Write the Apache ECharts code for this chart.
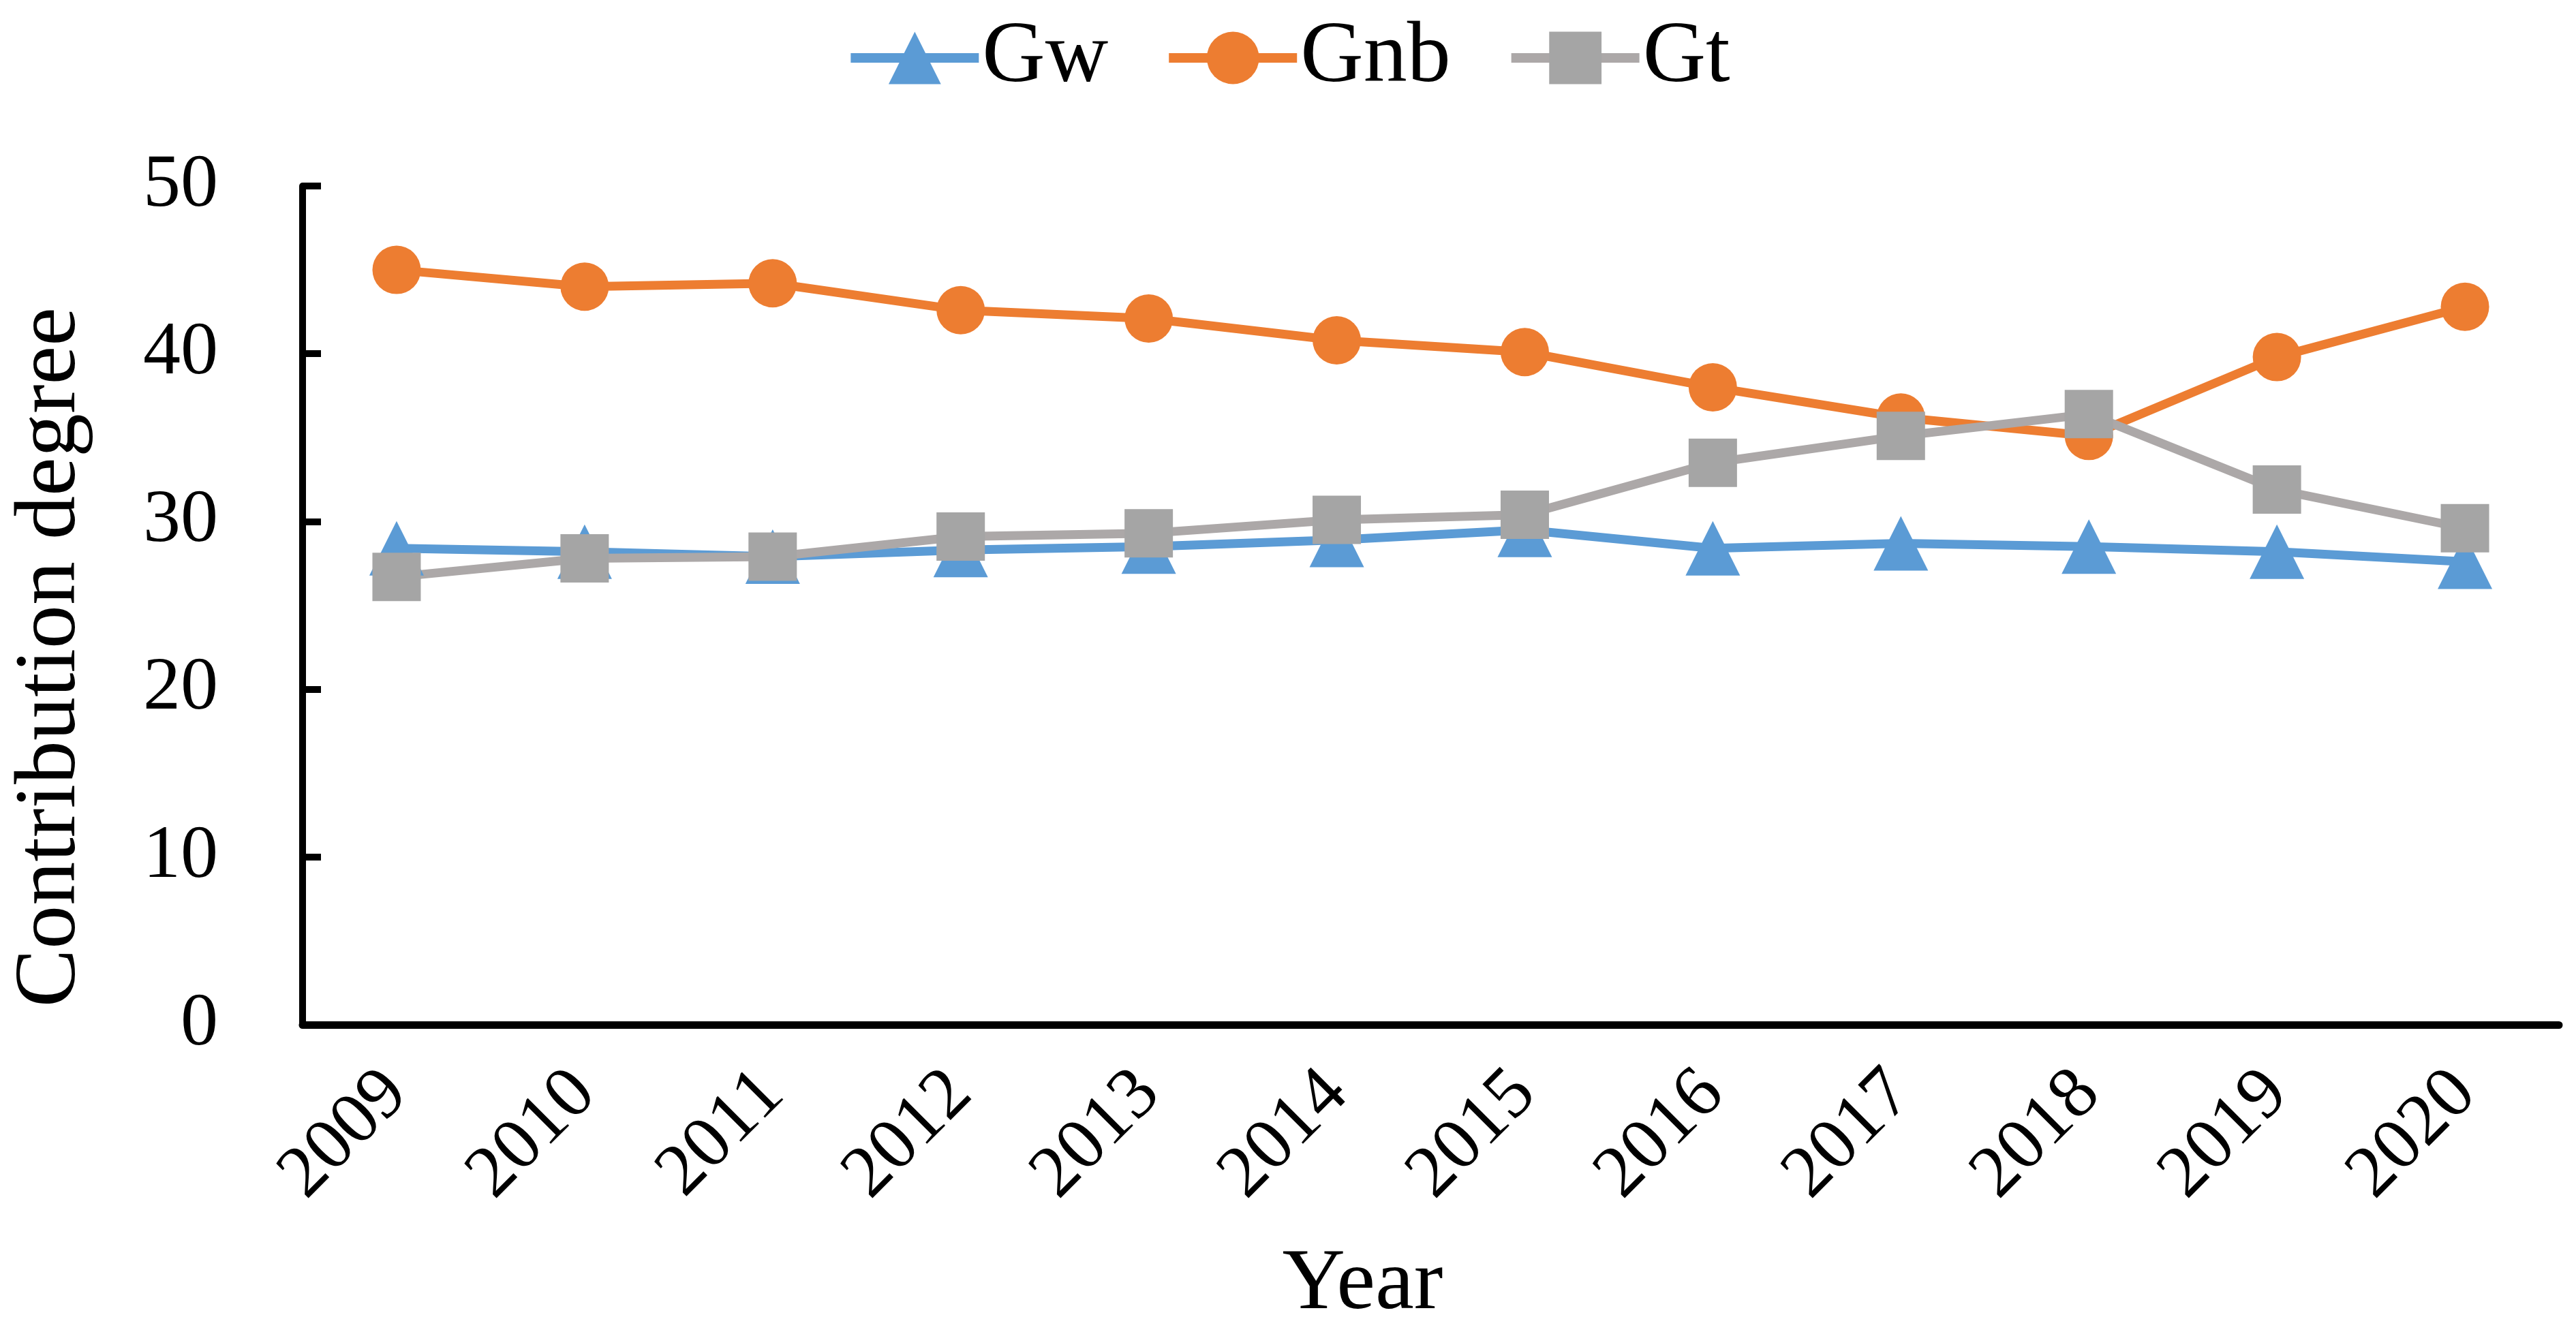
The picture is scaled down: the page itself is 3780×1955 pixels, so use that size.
<!DOCTYPE html>
<html>
<head>
<meta charset="utf-8">
<script src="https://cdn.jsdelivr.net/npm/echarts@6/dist/echarts.min.js"></script>
<style>
  html, body { margin: 0; padding: 0; background: #fff; }
  #container { width: 3780px; height: 1955px; }
</style>
</head>
<body>
<div id="container"></div>
<script>
// 数据
var years = ['2009', '2010', '2011', '2012', '2013', '2014', '2015', '2016', '2017', '2018', '2019', '2020'];
var gw = [28.4, 28.2, 27.9, 28.3, 28.5, 28.9, 29.5, 28.4, 28.7, 28.5, 28.2, 27.6];
var gnb = [45.0, 44.0, 44.2, 42.6, 42.1, 40.8, 40.1, 38.0, 36.2, 35.1, 39.8, 42.8];
var gt = [26.7, 27.8, 27.9, 29.1, 29.3, 30.1, 30.4, 33.5, 35.1, 36.4, 31.9, 29.6];

var font = "'Liberation Serif', 'Times New Roman', serif";

var dom = document.getElementById('container');
var myChart = echarts.init(dom);

var option = {
    animation: false,
    backgroundColor: '#ffffff',
    textStyle: { fontFamily: font, color: '#000' },
    legend: {
        top: 16,
        left: 'center',
        itemWidth: 188,
        itemHeight: 96,
        itemGap: 82,
        lineStyle: { width: 14 },
        textStyle: { fontFamily: font, fontSize: 128, color: '#000' },
        data: ['Gw', 'Gnb', 'Gt']
    },
    grid: {
        left: 444,
        right: 25,
        top: 273,
        bottom: 450,
        containLabel: false
    },
    xAxis: {
        type: 'category',
        data: years,
        boundaryGap: true,
        name: 'Year',
        nameLocation: 'middle',
        nameGap: 318,
        nameTextStyle: { fontFamily: font, fontSize: 128, color: '#000', padding: [0, 200, 0, 0] },
        axisLine: { lineStyle: { color: '#000', width: 11 } },
        axisTick: { inside: true, length: 32, interval: 0, lineStyle: { color: '#000', width: 10 } },
        axisLabel: { rotate: 45, margin: 85, interval: 0, fontFamily: font, fontSize: 108, color: '#000' },
        splitLine: { show: false }
    },
    yAxis: {
        type: 'value',
        min: 0,
        max: 50,
        interval: 10,
        name: 'Contribution degree',
        nameLocation: 'middle',
        nameGap: 305,
        nameTextStyle: { fontFamily: font, fontSize: 128, color: '#000', padding: [0, 152, 0, 0] },
        axisLine: { show: true, lineStyle: { color: '#000', width: 10 } },
        axisTick: { show: true, inside: true, length: 27, lineStyle: { color: '#000', width: 10 } },
        axisLabel: { margin: 124, fontFamily: font, fontSize: 110, color: '#000' },
        splitLine: { show: false }
    },
    series: [
        {
            name: 'Gw',
            type: 'line',
            data: gw,
            symbol: 'triangle',
            symbolSize: [80, 80],
            lineStyle: { color: '#5B9BD5', width: 13 },
            itemStyle: { color: '#5B9BD5' }
        },
        {
            name: 'Gnb',
            type: 'line',
            data: gnb,
            symbol: 'circle',
            symbolSize: 71,
            lineStyle: { color: '#ED7D31', width: 13 },
            itemStyle: { color: '#ED7D31' }
        },
        {
            name: 'Gt',
            type: 'line',
            data: gt,
            symbol: 'rect',
            symbolSize: 71,
            lineStyle: { color: '#ACA8A8', width: 13 },
            itemStyle: { color: '#A5A5A5' }
        }
    ]
};

myChart.setOption(option);
</script>
</body>
</html>
